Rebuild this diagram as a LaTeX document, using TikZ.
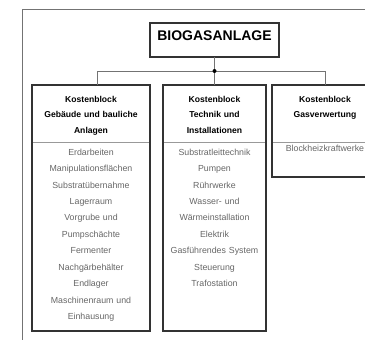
\documentclass[tikz,border=0pt]{standalone}
\usepackage{fontspec}
\setmainfont{Liberation Sans}
\usetikzlibrary{positioning}

\begin{document}
\begin{tikzpicture}
[x=1pt, y=1pt,
 mainbox/.style={draw=black!80, line width=1.3pt, font=\fontsize{14}{16}\selectfont\bfseries,
                 minimum width=129pt, inner xsep=0pt, inner ysep=8pt,
                 text height=10pt, text depth=8pt, outer sep=0pt},
 colhead/.style={font=\fontsize{8.6}{16}\selectfont\bfseries, align=center,
                 inner xsep=2pt, inner ysep=10pt, text height=7pt, text depth=30pt, outer sep=0pt},
 itemlist/.style={font=\fontsize{8.8}{16.5}\selectfont, text=black!60, align=center,
                 inner xsep=2pt, inner ysep=6pt, text height=7pt, text depth=170pt, outer sep=0pt},
 colbox/.style={draw=black!80, line width=1.2pt},
 divider/.style={draw=black!40, line width=0.9pt},
 connector/.style={draw=black!55, line width=0.9pt},
 outerline/.style={draw=black!55, line width=1pt}]

\useasboundingbox (0,0) rectangle (365,-340);
\draw[outerline] (22,-345) |- (370,-9);

\node[mainbox] (biogas) at (214.5,-40) {BIOGASANLAGE};

% column heads
\node[colhead, text width=99pt, below=28pt of biogas] (hmid) {Kostenblock\\Technik und\\Installationen};
\node[colhead, text width=114pt, left=13pt of hmid] (hleft) {Kostenblock\\Gebäude und bauliche\\Anlagen};
\node[colhead, text width=102pt, right=6pt of hmid] (hright) {Kostenblock\\Gasverwertung};

% item lists
\node[itemlist, text width=114pt, below=0pt of hleft] (lleft) {Erdarbeiten\\Manipulationsflächen\\Substratübernahme\\Lagerraum\\Vorgrube und\\Pumpschächte\\Fermenter\\Nachgärbehälter\\Endlager\\Maschinenraum und\\Einhausung};
\node[itemlist, text width=99pt, below=0pt of hmid] (lmid) {Substratleittechnik\\Pumpen\\Rührwerke\\Wasser- und\\Wärmeinstallation\\Elektrik\\Gasführendes System\\Steuerung\\Trafostation};
\node[itemlist, text width=102pt, text height=3.5pt, text depth=19.5pt, below=0pt of hright] (lright) {Blockheizkraftwerke};

\draw[divider] (hleft.south west) -- (hleft.south east);
\draw[divider] (hmid.south west) -- (hmid.south east);
\draw[divider] (hright.south west) -- (hright.south east);
\draw[colbox] (hleft.north west) rectangle (lleft.south east);
\draw[colbox] (hmid.north west) rectangle (lmid.south east);
\draw[colbox] (hright.north west) rectangle (lright.south east);

% connectors
\coordinate[below=14pt of biogas] (join);
\draw[connector] (biogas) -- (join);
\draw[connector] (join) -| ([xshift=6pt]hleft.north);
\draw[connector] (join) -- (hmid.north);
\draw[connector] (join) -| (hright.north);
\fill[black] (join) circle (2pt);
\end{tikzpicture}
\end{document}
